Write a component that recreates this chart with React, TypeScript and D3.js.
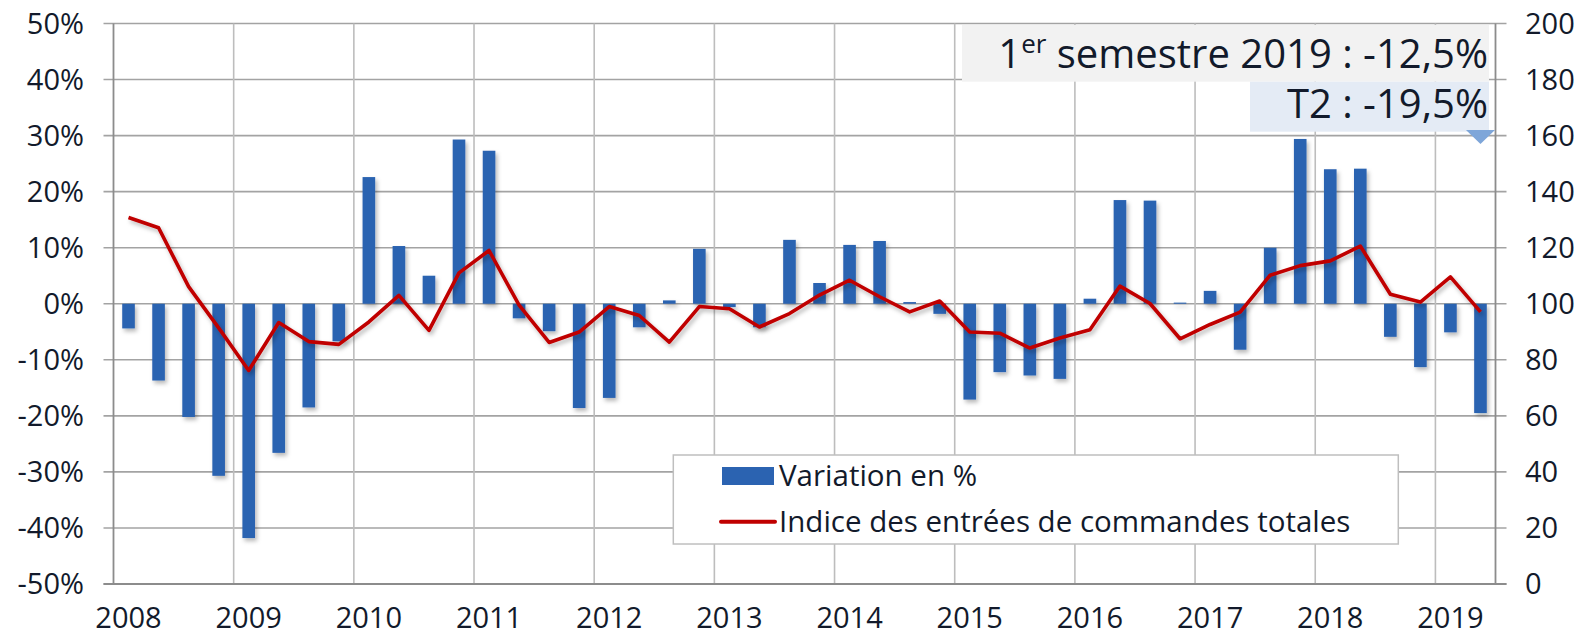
import React, { useRef, useEffect } from "react";
import * as d3 from "d3";

const W = 1581;
const H = 636;

// quarters 2008 T1 .. 2019 T2
const quarters = [
  "2008-T1", "2008-T2", "2008-T3", "2008-T4",
  "2009-T1", "2009-T2", "2009-T3", "2009-T4",
  "2010-T1", "2010-T2", "2010-T3", "2010-T4",
  "2011-T1", "2011-T2", "2011-T3", "2011-T4",
  "2012-T1", "2012-T2", "2012-T3", "2012-T4",
  "2013-T1", "2013-T2", "2013-T3", "2013-T4",
  "2014-T1", "2014-T2", "2014-T3", "2014-T4",
  "2015-T1", "2015-T2", "2015-T3", "2015-T4",
  "2016-T1", "2016-T2", "2016-T3", "2016-T4",
  "2017-T1", "2017-T2", "2017-T3", "2017-T4",
  "2018-T1", "2018-T2", "2018-T3", "2018-T4",
  "2019-T1", "2019-T2",
];

// variation en % (barres, axe gauche)
const variation = [
  -4.4, -13.7, -20.2, -30.7,
  -41.8, -26.6, -18.5, -6.7,
  22.6, 10.3, 5.0, 29.3,
  27.3, -2.6, -4.9, -18.6,
  -16.8, -4.2, 0.6, 9.8,
  -0.6, -4.2, 11.4, 3.7,
  10.5, 11.2, 0.3, -1.8,
  -17.1, -12.2, -12.8, -13.4,
  0.9, 18.5, 18.4, 0.2,
  2.3, -8.2, 10.0, 29.4,
  24.0, 24.1, -5.9, -11.3,
  -5.1, -19.5,
];

// indice des entrées de commandes totales (ligne, axe droit)
const indice = [
  130.8, 127.1, 106.1, 91.4,
  76.2, 93.3, 86.5, 85.5,
  93.5, 103.0, 90.5, 111.0,
  119.0, 99.5, 86.2, 89.9,
  99.0, 95.8, 86.3, 99.0,
  98.2, 91.7, 96.5, 103.1,
  108.4, 102.5, 97.1, 101.0,
  89.9, 89.5, 84.2, 87.8,
  90.7, 106.3, 100.1, 87.5,
  92.6, 97.0, 110.2, 113.6,
  115.3, 120.6, 103.4, 100.6,
  109.6, 97.1,
];

const leftTicks = [-50, -40, -30, -20, -10, 0, 10, 20, 30, 40, 50];
const rightTicks = [0, 20, 40, 60, 80, 100, 120, 140, 160, 180, 200];
const legendLabels = ["Variation en %", "Indice des entrées de commandes totales"];

const FONT = "'Open Sans', 'Noto Sans', sans-serif";
const TEXT = "#121a2b";

const App: React.FC = () => {
  const svgRef = useRef<SVGSVGElement | null>(null);

  useEffect(() => {
    if (!svgRef.current) return;
    const svg = d3.select(svgRef.current);
    svg.selectAll("*").remove();

    const left = 113.5;
    const right = 1495.5;
    const top = 23.5;
    const bottom = 584;

    const x = d3.scaleBand<string>().domain(quarters).range([left, right]).padding(0);
    const yL = d3.scaleLinear().domain([-50, 50]).range([bottom, top]);
    const yR = d3.scaleLinear().domain([0, 200]).range([bottom, top]);
    const bw = x.bandwidth();
    const cx = (q: string) => (x(q) as number) + bw / 2;

    const defs = svg.append("defs");
    const f = defs.append("filter").attr("id", "shadow").attr("x", "-30%").attr("y", "-30%").attr("width", "160%").attr("height", "160%");
    f.append("feDropShadow").attr("dx", 2).attr("dy", 3).attr("stdDeviation", 2)
      .attr("flood-color", "#000").attr("flood-opacity", 0.28);

    // grille horizontale
    svg.append("g").selectAll("line").data(leftTicks).join("line")
      .attr("x1", left - 10).attr("x2", right + 11)
      .attr("y1", (d) => yL(d)).attr("y2", (d) => yL(d))
      .attr("stroke", "#a3a3a3").attr("stroke-width", 1.6);

    // grille verticale (début de chaque année)
    const yearStarts = quarters.filter((q, i) => i > 0 && q.endsWith("T1"));
    svg.append("g").selectAll("line").data(yearStarts).join("line")
      .attr("x1", (d) => x(d) as number).attr("x2", (d) => x(d) as number)
      .attr("y1", top).attr("y2", bottom)
      .attr("stroke", "#bdbdbd").attr("stroke-width", 1.6);

    // axes verticaux
    [left, right].forEach((ax) => {
      svg.append("line").attr("x1", ax).attr("x2", ax).attr("y1", top).attr("y2", bottom)
        .attr("stroke", "#8c8c8c").attr("stroke-width", 1.8);
    });
    svg.append("line").attr("x1", left - 10).attr("x2", right + 11).attr("y1", bottom).attr("y2", bottom)
      .attr("stroke", "#8c8c8c").attr("stroke-width", 1.8);

    // barres
    const barW = bw * 0.42;
    svg.append("g").attr("filter", "url(#shadow)")
      .selectAll("rect").data(variation).join("rect")
      .attr("x", (_, i) => cx(quarters[i]) - barW / 2)
      .attr("y", (d) => yL(Math.max(0, d)))
      .attr("width", barW)
      .attr("height", (d) => Math.abs(yL(d) - yL(0)))
      .attr("fill", "#2b63b1");

    // ligne indice
    const line = d3.line<number>().x((_, i) => cx(quarters[i])).y((d) => yR(d));
    svg.append("path").datum(indice).attr("d", line)
      .attr("fill", "none").attr("stroke", "#c00000").attr("stroke-width", 3.6)
      .attr("stroke-linejoin", "round").attr("filter", "url(#shadow)");

    // étiquettes axe gauche
    svg.append("g").selectAll("text").data(leftTicks).join("text")
      .attr("x", 84).attr("y", (d) => yL(d)).attr("dy", "0.36em")
      .attr("text-anchor", "end").attr("font-family", FONT).attr("font-size", 29).attr("fill", TEXT)
      .text((d) => `${d}%`);

    // étiquettes axe droit
    svg.append("g").selectAll("text").data(rightTicks).join("text")
      .attr("x", 1525).attr("y", (d) => yR(d)).attr("dy", "0.36em")
      .attr("text-anchor", "start").attr("font-family", FONT).attr("font-size", 29).attr("fill", TEXT)
      .text((d) => `${d}`);

    // étiquettes années
    const yearLabels = quarters.filter((q) => q.endsWith("T1"));
    svg.append("g").selectAll("text").data(yearLabels).join("text")
      .attr("x", (d) => cx(d)).attr("y", 628)
      .attr("text-anchor", "middle").attr("font-family", FONT).attr("font-size", 29).attr("fill", TEXT)
      .text((d) => d.slice(0, 4));

    // encadrés
    svg.append("rect").attr("x", 962).attr("y", 25).attr("width", 1489 - 962).attr("height", 56.7).attr("fill", "#f2f2f2");
    svg.append("rect").attr("x", 1250).attr("y", 81.7).attr("width", 1489 - 1250).attr("height", 50).attr("fill", "#e4ebf5");
    const last = quarters[quarters.length - 1];
    const tc = cx(last);
    svg.append("path")
      .attr("d", `M${tc - 14.5},130 L${tc + 14.5},130 L${tc},144 Z`)
      .attr("fill", "#7ea6d9");

    const t1 = svg.append("text").attr("x", 1488).attr("y", 68.3).attr("text-anchor", "end")
      .attr("font-family", FONT).attr("font-size", 40).attr("fill", TEXT);
    t1.append("tspan").text("1");
    t1.append("tspan").attr("font-size", 26).attr("dy", -15).text("er");
    t1.append("tspan").attr("dy", 15).text(" semestre 2019 : -12,5%");
    svg.append("text").attr("x", 1488).attr("y", 118.3).attr("text-anchor", "end")
      .attr("font-family", FONT).attr("font-size", 40).attr("fill", TEXT)
      .text("T2 : -19,5%");

    // légende
    const lg = svg.append("g");
    lg.append("rect").attr("x", 673.3).attr("y", 455).attr("width", 1398.3 - 673.3).attr("height", 89)
      .attr("fill", "#fff").attr("stroke", "#bfbfbf").attr("stroke-width", 1.5);
    lg.append("rect").attr("x", 722).attr("y", 467).attr("width", 52).attr("height", 18).attr("fill", "#2b63b1");
    lg.append("line").attr("x1", 721).attr("x2", 775).attr("y1", 521.7).attr("y2", 521.7)
      .attr("stroke", "#c00000").attr("stroke-width", 4).attr("stroke-linecap", "round");
    lg.selectAll("text.lbl").data(legendLabels).join("text").attr("class", "lbl")
      .attr("x", 779).attr("y", (_, i) => 485.5 + i * 46)
      .attr("font-family", FONT).attr("font-size", 29.5).attr("fill", TEXT)
      .text((d) => d);
  }, []);

  return (
    <svg ref={svgRef} width={W} height={H} style={{ position: "absolute", left: 0, top: 0, background: "#fff" }} />
  );
};

export default App;
